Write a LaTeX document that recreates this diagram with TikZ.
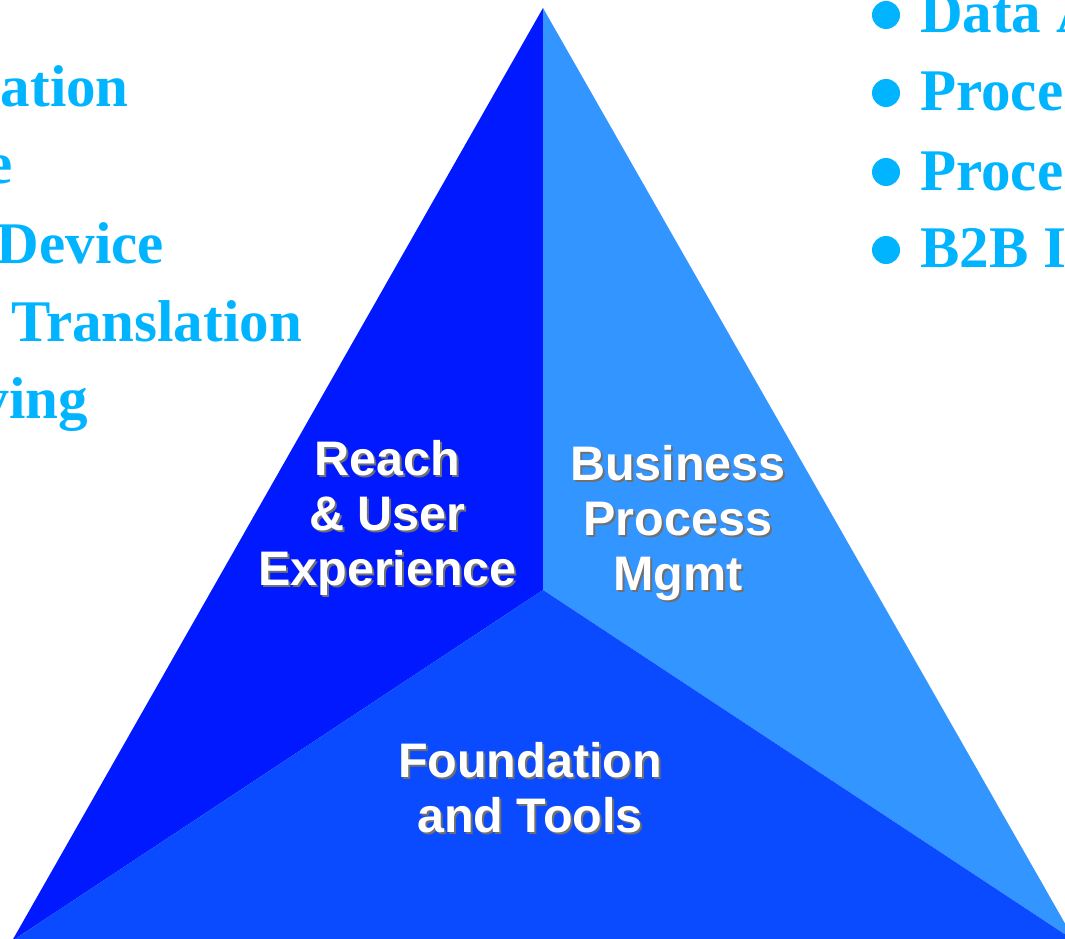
\documentclass[tikz,border=0pt]{standalone}
\usepackage{fontspec}
\setmainfont{Liberation Serif}
\newfontfamily\arialfont{Liberation Sans}
\definecolor{leftblue}{HTML}{0019FF}
\definecolor{rightblue}{HTML}{3395FF}
\definecolor{bottomblue}{HTML}{0A4BFF}
\definecolor{cyantext}{HTML}{00B4FF}
\definecolor{shadowgray}{HTML}{707070}
\tikzset{
  sidetext/.style={text=cyantext, font=\fontsize{59}{59}\selectfont\bfseries, inner sep=0pt},
  bulletdot/.style={circle, fill=cyantext, minimum size=28pt, inner sep=0pt},
  lbl/.style={text=white, font=\arialfont\fontsize{48.5}{55}\selectfont\bfseries, align=center, inner sep=0pt, anchor=base},
  lblshadow/.style={lbl, text=shadowgray},
}
\begin{document}
\begin{tikzpicture}[x=1pt,y=-1pt]
\useasboundingbox (0,0) rectangle (1065,939);
\clip (0,0) rectangle (1065,939);
\fill[white] (0,0) rectangle (1065,939);
\coordinate (A) at (543,8);
\coordinate (L) at (12,941);
\coordinate (R) at (1075,941);
\coordinate (C) at (543,590);
\fill[leftblue] (A) -- (C) -- (L) -- cycle;
\fill[rightblue] (A) -- (R) -- (C) -- cycle;
\fill[bottomblue] (L) -- (C) -- (R) -- cycle;
% left list (cut off)
\node[sidetext, anchor=base east] (l1) at (129,107) {ation};
\node[sidetext, anchor=base east] (l2) at (13,183) {e};
\node[sidetext, anchor=base east] (l3) at (164,263) {Device};
\node[sidetext, anchor=base east] (l4) at (302,341) {Translation};
\node[sidetext, anchor=base east] (l5) at (88,418) {ving};
% right list (cut off)
\node[bulletdot] (b1) at (886,15) {};
\node[bulletdot] (b2) at (886,93) {};
\node[bulletdot] (b3) at (886,172) {};
\node[bulletdot] (b4) at (886,250) {};
\node[sidetext, anchor=base west] (r1) at (920,33) {Data A};
\node[sidetext, anchor=base west] (r2) at (920,111) {Proce};
\node[sidetext, anchor=base west] (r3) at (920,190) {Proce};
\node[sidetext, anchor=base west] (r4) at (920,267) {B2B I};
% labels with shadow
\node[lblshadow] (reachs) at (389.5,587) {Reach\\\& User\\Experience};
\node[lbl] (reach) at (387.5,585) {Reach\\\& User\\Experience};
\node[lblshadow] (bpms) at (680,592) {Business\\Process\\Mgmt};
\node[lbl] (bpm) at (678,590) {Business\\Process\\Mgmt};
\node[lblshadow] (founds) at (532,834) {Foundation\\and Tools};
\node[lbl] (found) at (530,832) {Foundation\\and Tools};
\end{tikzpicture}
\end{document}
